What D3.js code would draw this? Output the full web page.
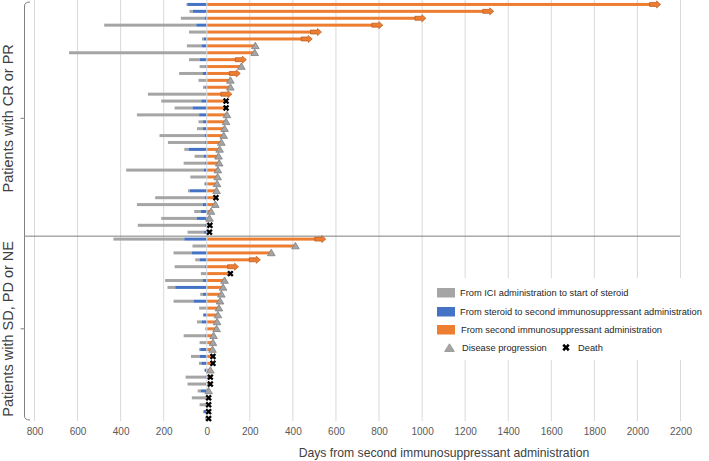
<!DOCTYPE html>
<html>
<head>
<meta charset="utf-8">
<script src="https://cdn.jsdelivr.net/npm/d3@7"></script>
<style>
  html, body { margin: 0; padding: 0; background: #fff; }
  svg { display: block; font-family: "Liberation Sans", Arial, sans-serif; }
</style>
</head>
<body>
<svg id="chart" width="709" height="461"></svg>
<script>
// ---- data ----
const groupLabels = ["Patients with CR or PR", "Patients with SD, PD or NE"];
const groupSizes = [34, 27];
// days from ICI administration to start of steroid (gray)
const iciToSteroid = [4, 16, 110, 428, 80, 8, 68, 637, 49, 27, 111, 36, 10, 271, 186, 83, 289, 21, 28, 209, 173, 20, 42, 100, 360, 74, 4, 8, 229, 305, 31, 166, 313, 77,
  329, 64, 85, 20, 142, 25, 176, 36, 13, 93, 33, 0, 23, 5, 100, 31, 5, 40, 11, 0, 92, 87, 15, 67, 31, 3, 5];
// days from steroid to second immunosuppressant (blue)
const steroidToSecond = [88, 62, 8, 46, 0, 12, 22, 0, 31, 4, 15, 0, 5, 0, 23, 64, 33, 15, 15, 8, 5, 82, 12, 5, 12, 0, 5, 77, 8, 17, 25, 43, 5, 10,
  102, 0, 67, 31, 5, 0, 15, 144, 15, 59, 0, 14, 20, 0, 5, 0, 28, 31, 23, 8, 4, 0, 25, 0, 0, 12, 0];
// days from second immunosuppressant administration (orange)
const afterSecond = [2110, 1335, 1020, 820, 535, 492, 228, 225, 186, 163, 158, 112, 112, 119, 92, 92, 96, 92, 85, 81, 70, 62, 57, 60, 54, 53, 50, 48, 45, 42, 22, 15, 17, 15,
  555, 414, 302, 251, 150, 112, 85, 78, 70, 64, 59, 54, 50, 48, 34, 31, 29, 31, 31, 19, 19, 19, 11, 11, 11, 11, 11];
// end event: O = ongoing (arrow), P = disease progression, D = death
const outcome = ["O","O","O","O","O","O","P","P","O","P","O","P","P","O","D","D","P","P","P","P","P","P","P","P","P","P","P","P","D","P","P","P","D","D",
  "O","P","P","O","O","D","P","P","P","P","P","P","P","P","P","P","P","D","D","P","D","D","P","D","D","D","D"];
const xTicks = [-800, -600, -400, -200, 0, 200, 400, 600, 800, 1000, 1200, 1400, 1600, 1800, 2000, 2200];
const legendItems = ["From ICI administration to start of steroid", "From steroid to second immunosuppressant  administration", "From second immunosuppressant  administration"];
const xTitle = "Days from second immunosuppressant administration";

// ---- setup ----
const colors = { gray: "#a5a5a5", blue: "#4472c4", orange: "#ed7d31" };
const svg = d3.select("#chart");
const rows = iciToSteroid.map((g, i) => ({ id: i, gray: g, blue: steroidToSecond[i], orange: afterSecond[i], out: outcome[i] }));

const x = d3.scaleLinear().domain([-800, 2200]).range([34, 680]);
const y = d3.scaleBand().domain(rows.map(d => d.id)).range([1, 422]);
const bh = 3;
const cy = d => y(d.id) + y.bandwidth() / 2;

// gridlines
svg.append("g").selectAll("line").data(xTicks).join("line")
  .attr("x1", d => x(d) + 0.5).attr("x2", d => x(d) + 0.5)
  .attr("y1", 0).attr("y2", 421)
  .attr("stroke", "#d9d9d9").attr("stroke-width", 1);

// bars
const bars = svg.append("g");
bars.selectAll(".g").data(rows).join("rect")
  .attr("x", d => x(-(d.gray + d.blue))).attr("width", d => x(-d.blue) - x(-(d.gray + d.blue)))
  .attr("y", d => cy(d) - bh / 2).attr("height", bh).attr("fill", colors.gray);
bars.selectAll(".b").data(rows).join("rect")
  .attr("x", d => x(-d.blue)).attr("width", d => x(0) - x(-d.blue))
  .attr("y", d => cy(d) - bh / 2).attr("height", bh).attr("fill", colors.blue);
bars.selectAll(".o").data(rows).join("rect")
  .attr("x", x(0) + 1).attr("width", d => Math.max(0, x(d.orange) - x(0) - 1 - (d.out === "O" ? 6 : 0)))
  .attr("y", d => cy(d) - bh / 2).attr("height", bh).attr("fill", colors.orange);

// markers
const arrowPath = "M-11,-2 L-4,-2 L-4,-3.5 L0,0 L-4,3.5 L-4,2 L-11,2 Z";
svg.append("g").selectAll("path").data(rows.filter(d => d.out === "O")).join("path")
  .attr("transform", d => `translate(${x(d.orange)},${cy(d)})`)
  .attr("d", arrowPath).attr("fill", colors.orange).attr("stroke", "#b85a1c").attr("stroke-width", 0.7);

const tri = "M0,-3.6 L3.8,2.8 L-3.8,2.8 Z";
svg.append("g").selectAll("path").data(rows.filter(d => d.out === "P")).join("path")
  .attr("transform", d => `translate(${x(d.orange)},${cy(d)})`)
  .attr("d", tri).attr("fill", "#a5a5a5").attr("stroke", "#7f7f7f").attr("stroke-width", 0.8);

const cross = d3.symbol(d3.symbolCross, 26)();
svg.append("g").selectAll("path").data(rows.filter(d => d.out === "D")).join("path")
  .attr("transform", d => `translate(${x(d.orange)},${cy(d)}) rotate(45)`)
  .attr("d", cross).attr("fill", "#000");

// group separator
const sepY = y(groupSizes[0]) - (y.step() - y.bandwidth()) / 2 + 0.5;
svg.append("line").attr("x1", 25).attr("x2", 680).attr("y1", sepY).attr("y2", sepY)
  .attr("stroke", "#7f7f7f").attr("stroke-width", 1);

// braces (left category axis)
const gStarts = [0, groupSizes[0]];
const braceG = svg.append("g").attr("fill", "none").attr("stroke", "#808080").attr("stroke-width", 1);
gStarts.forEach((s, gi) => {
  const top = gi === 0 ? 2 : sepY;
  const bot = gi === 0 ? sepY : 420;
  const mid = (y(s) + y(s + groupSizes[gi] - 1) + y.bandwidth()) / 2;
  const bx = 24.5;
  let p = "";
  if (gi === 0) p += `M30,${top} Q${bx},${top} ${bx},${top + 4} `; else p += `M${bx},${top} `;
  p += `L${bx},${mid} M${bx - 4},${mid} L${bx},${mid} M${bx},${mid} `;
  if (gi === 1) p += `L${bx},${bot - 4} Q${bx},${bot} 30,${bot}`; else p += `L${bx},${bot}`;
  braceG.append("path").attr("d", p);
  svg.append("text")
    .attr("transform", `translate(12.5,${mid}) rotate(-90)`)
    .attr("text-anchor", "middle").attr("font-size", 14.5).attr("fill", "#404040")
    .text(groupLabels[gi]);
});

// x axis
const xAxis = d3.axisBottom(x).tickValues(xTicks).tickFormat(d => Math.abs(d)).tickSize(0).tickPadding(0);
const ax = svg.append("g").attr("transform", "translate(0.5,428)").call(xAxis);
ax.select(".domain").remove();
ax.selectAll("text").attr("font-size", 10).attr("fill", "#595959")
  .attr("font-family", "Liberation Sans, Arial, sans-serif");

svg.append("text").attr("x", 444).attr("y", 457).attr("text-anchor", "middle")
  .attr("font-size", 12.2).attr("fill", "#404040").text(xTitle);

// legend
const lg = svg.append("g");
lg.append("rect").attr("x", 425).attr("y", 278).attr("width", 282).attr("height", 82).attr("fill", "#fff");
const legColors = [colors.gray, colors.blue, colors.orange];
const legY = [292.5, 311.5, 329.5];
legendItems.forEach((t, i) => {
  lg.append("rect").attr("x", 437).attr("y", legY[i] - 4.5).attr("width", 18).attr("height", 9.5).attr("fill", legColors[i]);
  lg.append("text").attr("x", i === 2 ? 461 : 460).attr("y", legY[i]).attr("dy", "0.35em")
    .attr("font-size", 9.3).attr("fill", "#262626").text(t);
});
lg.append("path").attr("transform", "translate(449.5,348)").attr("d", "M0,-4.2 L4.8,3.4 L-4.8,3.4 Z")
  .attr("fill", "#a5a5a5").attr("stroke", "#8a8a8a").attr("stroke-width", 0.8);
lg.append("text").attr("x", 462).attr("y", 348).attr("dy", "0.35em").attr("font-size", 9.3).attr("fill", "#262626").text("Disease progression");
lg.append("path").attr("transform", "translate(566,347.5) rotate(45)").attr("d", d3.symbol(d3.symbolCross, 34)()).attr("fill", "#000");
lg.append("text").attr("x", 578).attr("y", 347.5).attr("dy", "0.35em").attr("font-size", 9.3).attr("fill", "#262626").text("Death");
</script>
</body>
</html>
